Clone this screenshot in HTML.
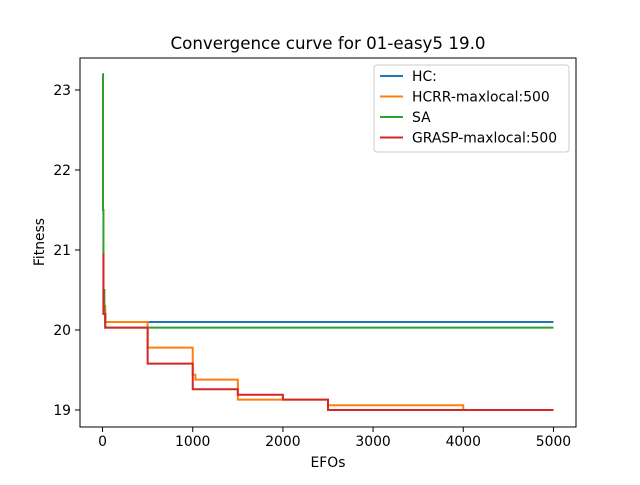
<!DOCTYPE html>
<html><head><meta charset="utf-8"><style>
body{margin:0;background:#fff;font-family:"Liberation Sans","DejaVu Sans",sans-serif}
svg text{font-family:"DejaVu Sans","Liberation Sans",sans-serif}
</style></head><body>
<svg id="c" width="640" height="480" xmlns="http://www.w3.org/2000/svg">
<rect width="640" height="480" fill="#fff"/>
</svg>
<script>
const hcX=[0,10,30,5000];
const hcY=[20.5,20.2,20.1,20.1];
const hcrrX=[0,10,30,500,520,1000,1030,1500,2500,4000,5000];
const hcrrY=[20.6,20.3,20.1,19.78,19.78,19.44,19.38,19.13,19.06,19.0,19.0];
const saX=[0,5,10,20,30,5000];
const saY=[23.2,21.5,20.5,20.2,20.03,20.03];
const graspX=[0,10,30,500,1000,1500,2000,2500,5000];
const graspY=[20.95,20.2,20.03,19.58,19.26,19.19,19.13,19.0,19.0];
const xTicks=[0,1000,2000,3000,4000,5000];
const yTicks=[19,20,21,22,23];
const L=80,R=576,T=58,B=427;
const xs=v=>L+(v+250)/5500*(R-L);
const ys=v=>410-(v-19)*80;
const svg=document.getElementById('c');
const NS='http://www.w3.org/2000/svg';
function mk(t,a,txt){const e=document.createElementNS(NS,t);for(const k in a)e.setAttribute(k,a[k]);if(txt!=null)e.textContent=txt;svg.appendChild(e);return e;}
function series(X,Y,col,name){let d='M'+xs(X[0])+','+ys(Y[0]);for(let i=1;i<X.length;i++){d+=' L'+xs(X[i])+','+ys(Y[i-1])+' L'+xs(X[i])+','+ys(Y[i]);}
const p=mk('path',{d:d,fill:'none',stroke:col,'stroke-width':2});

}
series(hcX,hcY,'#1f77b4','hc-line');
series(hcrrX,hcrrY,'#ff7f0e','hcrr-line');
series(saX,saY,'#2ca02c','sa-line');
series(graspX,graspY,'#d62728','grasp-line');
const fr=mk('rect',{x:L,y:T,width:R-L,height:B-T,fill:'none',stroke:'#000','stroke-width':1});


xTicks.forEach(v=>{mk('line',{x1:xs(v),x2:xs(v),y1:B,y2:B+5,stroke:'#000','stroke-width':1});
const t=mk('text',{x:xs(v),y:B+19,'text-anchor':'middle','font-size':13.9},v);

});
yTicks.forEach(v=>{mk('line',{x1:L-5,x2:L,y1:ys(v),y2:ys(v),stroke:'#000','stroke-width':1});
const t=mk('text',{x:L-9,y:ys(v)+5,'text-anchor':'end','font-size':13.9},v);

});
const tt=mk('text',{x:328,y:49,'text-anchor':'middle','font-size':16.7},'Convergence curve for 01-easy5 19.0');


const xl=mk('text',{x:328,y:467,'text-anchor':'middle','font-size':13.9},'EFOs');


const yl=mk('text',{x:44,y:242,'text-anchor':'middle','font-size':13.9,transform:'rotate(-90 44 242)'},'Fitness');


const lg=mk('rect',{x:374,y:65,width:195,height:87,rx:3,fill:'#fff','fill-opacity':0.8,stroke:'#ccc','stroke-width':1});


[['HC:','#1f77b4'],['HCRR-maxlocal:500','#ff7f0e'],['SA','#2ca02c'],['GRASP-maxlocal:500','#d62728']].forEach((e,i)=>{const y=76+i*20.5;
mk('line',{x1:380,x2:403,y1:y,y2:y,stroke:e[1],'stroke-width':2});
const t=mk('text',{x:412,y:y+5,'font-size':13.9},e[0]);

});
</script>
</body></html>
